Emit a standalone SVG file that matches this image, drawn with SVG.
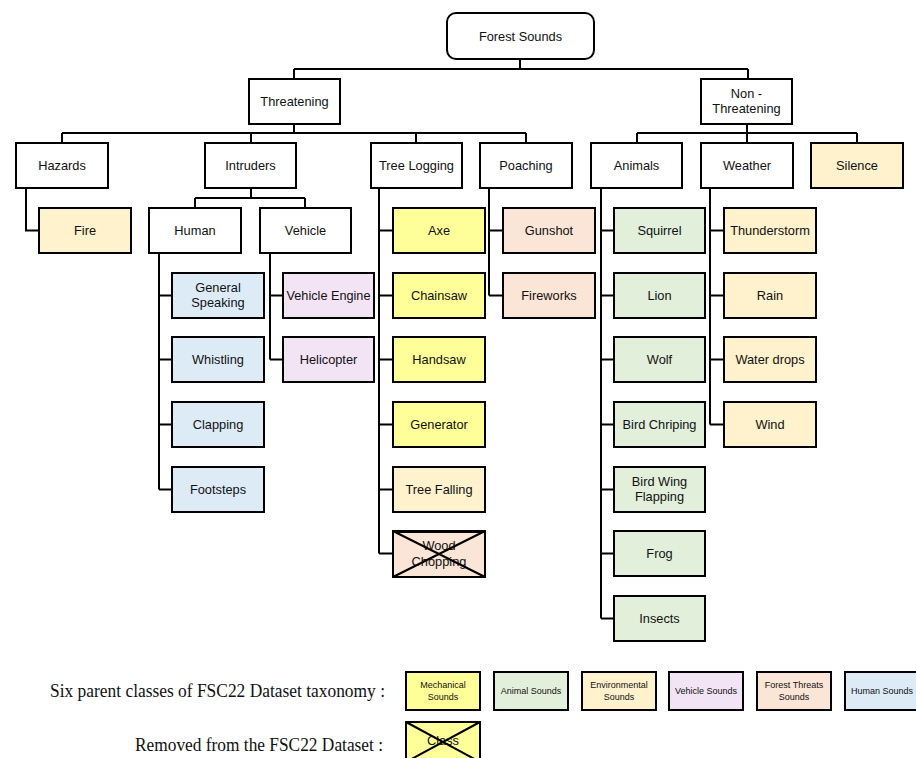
<svg xmlns="http://www.w3.org/2000/svg" width="916" height="758" viewBox="0 0 916 758">
<style>
.b{stroke:#000;stroke-width:2}
.w{fill:#fff}.mec{fill:#FFFF99}.ani{fill:#E2EFDA}.env{fill:#FFF2CC}.veh{fill:#F2E3F5}.thr{fill:#FBE5D6}.hum{fill:#DDEBF7}
text{font-family:"Liberation Sans",Arial,sans-serif;font-size:12.8px;fill:#111;text-anchor:middle}
.lg{font-size:9px}
.serif{font-family:"Liberation Serif","Times New Roman",serif;font-size:18px;text-anchor:start}
#connectors path{fill:none;stroke:#000;stroke-width:2}
</style>
<g id="connectors">
<path d="M520,59V69M294,69H748M294,69V79M748,69V79"/>
<path d="M294,124V133M62,133H526M62,133V143M251,133V143M416,133V143M526,133V143"/>
<path d="M747,124V133M637,133H857M637,133V143M747,133V143M857,133V143"/>
<path d="M26,188V230.5H39"/>
<path d="M251,188V198M195,198H305M195,198V208M305,198V208"/>
<path d="M159,253V489.5M159,295.5H172M159,359.5H172M159,424.5H172M159,489.5H172"/>
<path d="M270,253V359.5M270,295.5H283M270,359.5H283"/>
<path d="M379,188V553.5M379,230.5H393M379,295.5H393M379,359.5H393M379,424.5H393M379,489.5H393M379,553.5H393"/>
<path d="M489,188V295.5M489,230.5H503M489,295.5H503"/>
<path d="M601,188V618.5M601,230.5H614M601,295.5H614M601,359.5H614M601,424.5H614M601,489.5H614M601,553.5H614M601,618.5H614"/>
<path d="M710,188V424.5M710,230.5H724M710,295.5H724M710,359.5H724M710,424.5H724"/>
</g>
<g id="forest-sounds"><rect class="b w" x="447" y="13" width="147" height="46" rx="9"/><text x="520.5" y="41">Forest Sounds</text></g>
<g id="threatening"><rect class="b w" x="249" y="79" width="91" height="45"/><text x="294.5" y="106">Threatening</text></g>
<g id="non-threatening"><rect class="b w" x="701" y="79" width="91" height="45"/><text x="746.5" y="98">Non -</text><text x="746.5" y="113">Threatening</text></g>
<g id="hazards"><rect class="b w" x="16" y="143" width="92" height="45"/><text x="62" y="170">Hazards</text></g>
<g id="intruders"><rect class="b w" x="205" y="143" width="91" height="45"/><text x="250.5" y="170">Intruders</text></g>
<g id="tree-logging"><rect class="b w" x="371" y="143" width="91" height="45"/><text x="416.5" y="170">Tree Logging</text></g>
<g id="poaching"><rect class="b w" x="480" y="143" width="92" height="45"/><text x="526" y="170">Poaching</text></g>
<g id="animals"><rect class="b w" x="591" y="143" width="91" height="45"/><text x="636.5" y="170">Animals</text></g>
<g id="weather"><rect class="b w" x="701" y="143" width="92" height="45"/><text x="747" y="170">Weather</text></g>
<g id="silence"><rect class="b env" x="811" y="143" width="92" height="45"/><text x="857" y="170">Silence</text></g>
<g id="fire"><rect class="b env" x="39" y="208" width="92" height="45"/><text x="85" y="235">Fire</text></g>
<g id="human"><rect class="b w" x="149" y="208" width="92" height="45"/><text x="195" y="235">Human</text></g>
<g id="vehicle"><rect class="b w" x="260" y="208" width="91" height="45"/><text x="305.5" y="235">Vehicle</text></g>
<g id="general-speaking"><rect class="b hum" x="172" y="273" width="92" height="45"/><text x="218" y="292">General</text><text x="218" y="307">Speaking</text></g>
<g id="whistling"><rect class="b hum" x="172" y="337" width="92" height="45"/><text x="218" y="364">Whistling</text></g>
<g id="clapping"><rect class="b hum" x="172" y="402" width="92" height="45"/><text x="218" y="429">Clapping</text></g>
<g id="footsteps"><rect class="b hum" x="172" y="467" width="92" height="45"/><text x="218" y="494">Footsteps</text></g>
<g id="vehicle-engine"><rect class="b veh" x="283" y="273" width="91" height="45"/><text x="328.5" y="300" textLength="84" lengthAdjust="spacingAndGlyphs">Vehicle Engine</text></g>
<g id="helicopter"><rect class="b veh" x="283" y="337" width="91" height="45"/><text x="328.5" y="364">Helicopter</text></g>
<g id="axe"><rect class="b mec" x="393" y="208" width="92" height="45"/><text x="439" y="235">Axe</text></g>
<g id="chainsaw"><rect class="b mec" x="393" y="273" width="92" height="45"/><text x="439" y="300">Chainsaw</text></g>
<g id="handsaw"><rect class="b mec" x="393" y="337" width="92" height="45"/><text x="439" y="364">Handsaw</text></g>
<g id="generator"><rect class="b mec" x="393" y="402" width="92" height="45"/><text x="439" y="429">Generator</text></g>
<g id="tree-falling"><rect class="b env" x="393" y="467" width="92" height="45"/><text x="439" y="494">Tree Falling</text></g>
<g id="wood-chopping"><rect class="b thr" x="393" y="531" width="92" height="46"/><text x="439" y="550">Wood</text><text x="439" y="566">Chopping</text><path d="M393,531L485,577M485,531L393,577M393,532H485" stroke="#000" stroke-width="2" fill="none"/></g>
<g id="gunshot"><rect class="b thr" x="503" y="208" width="92" height="45"/><text x="549" y="235">Gunshot</text></g>
<g id="fireworks"><rect class="b thr" x="503" y="273" width="92" height="45"/><text x="549" y="300">Fireworks</text></g>
<g id="squirrel"><rect class="b ani" x="614" y="208" width="91" height="45"/><text x="659.5" y="235">Squirrel</text></g>
<g id="lion"><rect class="b ani" x="614" y="273" width="91" height="45"/><text x="659.5" y="300">Lion</text></g>
<g id="wolf"><rect class="b ani" x="614" y="337" width="91" height="45"/><text x="659.5" y="364">Wolf</text></g>
<g id="bird-chriping"><rect class="b ani" x="614" y="402" width="91" height="45"/><text x="659.5" y="429">Bird Chriping</text></g>
<g id="bird-wing-flapping"><rect class="b ani" x="614" y="467" width="91" height="45"/><text x="659.5" y="486">Bird Wing</text><text x="659.5" y="501">Flapping</text></g>
<g id="frog"><rect class="b ani" x="614" y="531" width="91" height="45"/><text x="659.5" y="558">Frog</text></g>
<g id="insects"><rect class="b ani" x="614" y="596" width="91" height="45"/><text x="659.5" y="623">Insects</text></g>
<g id="thunderstorm"><rect class="b env" x="724" y="208" width="92" height="45"/><text x="770" y="235">Thunderstorm</text></g>
<g id="rain"><rect class="b env" x="724" y="273" width="92" height="45"/><text x="770" y="300">Rain</text></g>
<g id="water-drops"><rect class="b env" x="724" y="337" width="92" height="45"/><text x="770" y="364">Water drops</text></g>
<g id="wind"><rect class="b env" x="724" y="402" width="92" height="45"/><text x="770" y="429">Wind</text></g>
<g id="legend">
<text class="serif" x="50" y="697" textLength="335" lengthAdjust="spacingAndGlyphs">Six parent classes of FSC22 Dataset taxonomy :</text>
<text class="serif" x="135" y="751" textLength="248" lengthAdjust="spacingAndGlyphs">Removed from the FSC22 Dataset :</text>
<rect class="b mec" x="406" y="672" width="74" height="38"/><text class="lg" x="443" y="688">Mechanical</text><text class="lg" x="443" y="700">Sounds</text>
<rect class="b ani" x="494" y="672" width="74" height="38"/><text class="lg" x="531" y="694">Animal Sounds</text>
<rect class="b env" x="582" y="672" width="74" height="38"/><text class="lg" x="619" y="688">Environmental</text><text class="lg" x="619" y="700">Sounds</text>
<rect class="b veh" x="669" y="672" width="74" height="38"/><text class="lg" x="706" y="694">Vehicle Sounds</text>
<rect class="b thr" x="757" y="672" width="74" height="38"/><text class="lg" x="794" y="688">Forest Threats</text><text class="lg" x="794" y="700">Sounds</text>
<rect class="b hum" x="845" y="672" width="74" height="38"/><text class="lg" x="882" y="694">Human Sounds</text>
<rect class="b mec" x="406" y="722" width="74" height="40"/><text x="443" y="745" font-size="12">Class</text>
<path d="M406,722L480,762M480,722L406,762" stroke="#000" stroke-width="2"/>
</g>
</svg>
